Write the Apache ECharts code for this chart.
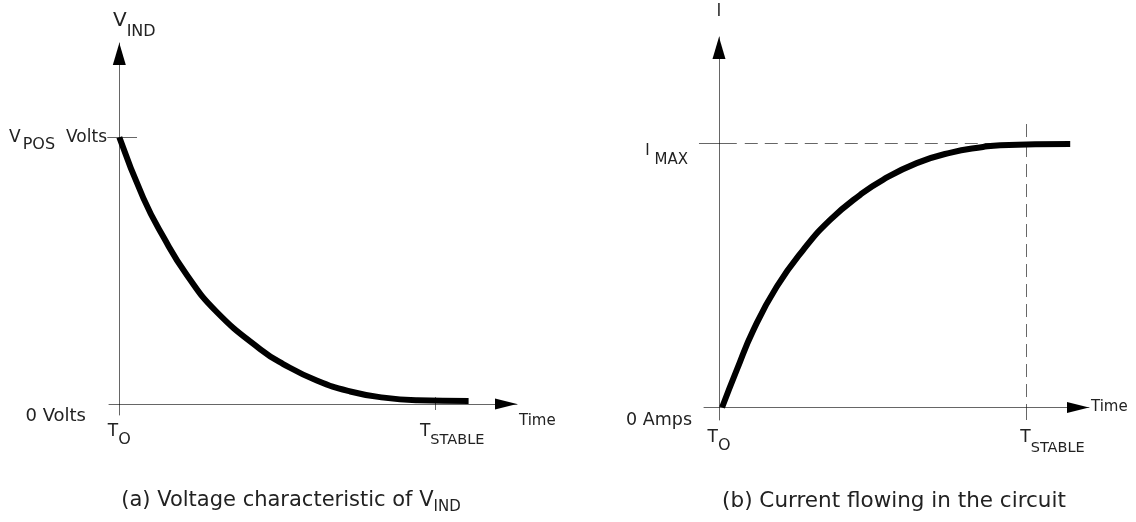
<!DOCTYPE html>
<html>
<head>
<meta charset="utf-8">
<script src="https://cdn.jsdelivr.net/npm/echarts@6/dist/echarts.min.js"></script>
<style>
html, body { margin: 0; padding: 0; background: #fff; }
#chart { width: 1136px; height: 522px; }
</style>
</head>
<body>
<div id="chart"></div>
<script>
// (a) voltage across the inductor, V_POS = 1, T_STABLE = 5
var timeA = [0, 0.38, 0.70, 1.07, 1.54, 2.23, 2.59, 3.12, 3.65, 4.18, 4.71, 5.52];
var voltA = [1.0, 0.772, 0.625, 0.483, 0.345, 0.205, 0.150, 0.088, 0.047, 0.024, 0.014, 0.011];

// (b) current in the circuit, I_MAX = 1
var timeB = [0.05, 0.29, 0.56, 0.94, 1.37, 1.81, 2.30, 2.67, 3.22, 3.76, 4.30, 4.58, 5.72];
var currB = [0, 0.142, 0.293, 0.457, 0.596, 0.710, 0.805, 0.862, 0.925, 0.964, 0.986, 0.993, 0.997];

var T_STABLE = 5;
var V_POS = 1;
var I_MAX = 1;

var FONT = 'DejaVu Sans';

function tok(size, lh, pad, color) {
    var s = {fontFamily: FONT, fontSize: size, fontWeight: 'normal', lineHeight: lh, color: color || '#222'};
    if (pad) s.padding = pad;
    return s;
}

function pairs(xs, ys) {
    var out = [];
    for (var i = 0; i < xs.length; i++) out.push([xs[i], ys[i]]);
    return out;
}

// grey axis line, solid black arrow head
function arrowLine(size) {
    return {
        show: true, onZero: true,
        symbol: ['none', 'triangle'],
        symbolSize: size,
        symbolOffset: [0, -size[1] / 2],
        lineStyle: {color: '#000', width: 1, opacity: 0.6}
    };
}

var tickLine = {color: '#000', width: 1, opacity: 0.6, type: 'solid'};
var dashLine = {color: '#000', width: 1, opacity: 0.6, type: [13, 7]};

var dom = document.getElementById('chart');
var myChart = echarts.init(dom);

var option = {
    animation: false,
    backgroundColor: '#fff',
    textStyle: {fontFamily: FONT, color: '#222'},
    title: [
        {
            text: '{m|(a) Voltage characteristic of V}{s|IND}',
            left: 291, top: 487, textAlign: 'center', padding: 0,
            textStyle: {fontWeight: 'normal', rich: {m: tok(21, 28), s: tok(15, 28, [12, 0, 0, 0])}}
        },
        {
            text: '{m|(b) Current flowing in the circuit}',
            left: 894, top: 487, textAlign: 'center', padding: 0,
            textStyle: {fontWeight: 'normal', rich: {m: tok(21.5, 28)}}
        }
    ],
    grid: [
        {left: 109, right: 619, top: 43, bottom: 107, containLabel: false, outerBoundsMode: 'none'},
        {left: 704, right: 47, top: 37, bottom: 102, containLabel: false, outerBoundsMode: 'none'}
    ],
    xAxis: [
        {
            gridIndex: 0, type: 'value', min: -0.163, max: 6.285,
            name: '{t|Time}', nameLocation: 'end', nameGap: 2, nameMoveOverlap: false,
            nameTextStyle: {rich: {t: tok(15, 20, [34, 0, 0, 0])}},
            axisLine: arrowLine([11, 22]),
            axisTick: {show: true, customValues: [T_STABLE], length: 6, lineStyle: tickLine},
            axisLabel: {
                show: true, customValues: [0, T_STABLE], margin: 7,
                formatter: function (v) {
                    return v === 0 ? '{t|T}{s|O}' : '{tp|T}{s2|STABLE}';
                },
                rich: {
                    t: tok(17, 20), s: tok(16, 20, [16, 0, 0, 0]),
                    tp: tok(17, 20, [0, 0, 0, 33]), s2: tok(14.5, 20, [16, 0, 0, 0])
                }
            },
            splitLine: {show: false}
        },
        {
            gridIndex: 1, type: 'value', min: -0.244, max: 6.026,
            name: '{t|Time}', nameLocation: 'end', nameGap: 2, nameMoveOverlap: false,
            nameTextStyle: {rich: {t: tok(15, 20)}},
            axisLine: arrowLine([11, 22]),
            axisTick: {show: true, customValues: [T_STABLE], length: 12.5, lineStyle: tickLine},
            axisLabel: {
                show: true, customValues: [0, T_STABLE], margin: 8,
                formatter: function (v) {
                    return v === 0 ? '{t|T}{s|O}' : '{tp|T}{s2|STABLE}';
                },
                rich: {
                    t: tok(17, 20), s: tok(16, 20, [16, 0, 0, 0]),
                    tp: tok(17, 20, [0, 0, 0, 53]), s2: tok(14.5, 20, [20, 0, 0, 0])
                }
            },
            splitLine: {show: false}
        }
    ],
    yAxis: [
        {
            gridIndex: 0, type: 'value', min: -0.0412, max: 1.3536,
            name: '{v|V}{s|IND}', nameLocation: 'end', nameGap: 10.5, nameMoveOverlap: false,
            nameTextStyle: {rich: {v: tok(20, 24, [0, 0, 0, 30]), s: tok(16, 24, [23, 0, 0, 0])}},
            axisLine: arrowLine([13, 22]),
            axisTick: {show: true, customValues: [V_POS], length: 12, lineStyle: tickLine},
            axisLabel: {
                show: true, customValues: [0, V_POS], margin: 2,
                formatter: function (v) {
                    return v === V_POS ? '{v|V}{s|POS}{m|Volts}' : '{z|0 Volts}';
                },
                rich: {
                    v: tok(17, 20, [0, 2, 0, 0]), m: tok(17, 20),
                    s: tok(16, 20, [16, 11, 0, 0]),
                    z: tok(18, 20, [24, 21, 0, 0])
                }
            },
            splitLine: {show: false}
        },
        {
            gridIndex: 1, type: 'value', min: -0.0473, max: 1.4024,
            name: '{i|I}', nameLocation: 'end', nameGap: 13.5, nameMoveOverlap: false,
            nameTextStyle: {rich: {i: tok(18, 24, null, '#444')}},
            axisLine: arrowLine([13, 22]),
            axisTick: {show: true, customValues: [I_MAX], length: 20, lineStyle: tickLine},
            axisLabel: {
                show: true, customValues: [0, I_MAX], margin: 12,
                formatter: function (v) {
                    return v === I_MAX ? '{i|I }{s|MAX}' : '{z|0 Amps}';
                },
                rich: {
                    i: tok(15, 20, [16, 0, 0, 0]), s: tok(15, 20, [34, 4, 0, 0]),
                    z: tok(17.5, 20, [26, 0, 0, 0])
                }
            },
            splitLine: {show: false}
        }
    ],
    series: [
        {
            name: 'V_IND', type: 'line', xAxisIndex: 0, yAxisIndex: 0,
            data: pairs(timeA, voltA),
            smooth: 0.5, showSymbol: false, silent: true,
            lineStyle: {color: '#000', width: 6},
            markLine: {
                silent: true, symbol: ['none', 'none'], z: 1, label: {show: false},
                emphasis: {disabled: true},
                data: [
                    [{coord: [0, V_POS], lineStyle: tickLine}, {coord: [0.28, V_POS]}],
                    [{coord: [T_STABLE, 0], lineStyle: tickLine}, {coord: [T_STABLE, 0.026]}]
                ]
            }
        },
        {
            name: 'I', type: 'line', xAxisIndex: 1, yAxisIndex: 1,
            data: pairs(timeB, currB),
            smooth: 0.5, showSymbol: false, silent: true,
            lineStyle: {color: '#000', width: 6},
            markLine: {
                silent: true, symbol: ['none', 'none'], z: 1, label: {show: false},
                emphasis: {disabled: true},
                data: [
                    [{coord: [0, I_MAX], lineStyle: tickLine}, {coord: [0.29, I_MAX]}],
                    [{coord: [0.42, I_MAX], lineStyle: dashLine}, {coord: [T_STABLE, I_MAX]}],
                    [{coord: [T_STABLE, 1.073], lineStyle: dashLine}, {coord: [T_STABLE, 0]}]
                ]
            }
        }
    ]
};

if (option && typeof option === "object") {
    myChart.setOption(option, true);
}
</script>
</body>
</html>
